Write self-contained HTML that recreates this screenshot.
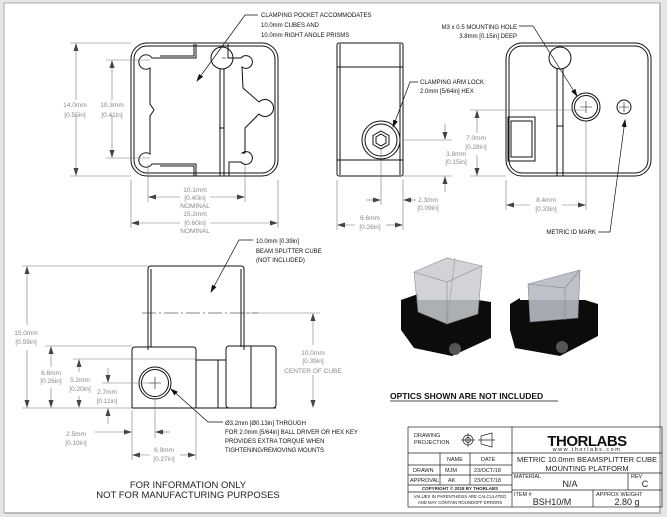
<!DOCTYPE html>
<html><head><meta charset="utf-8"><style>
html,body{margin:0;padding:0;background:#e6e6e6;}
svg{display:block;}
text{font-family:"Liberation Sans",sans-serif;}
.l{fill:#111;font-size:6px;}
.d{fill:#888;font-size:6.5px;}
</style></head><body>
<svg width="667" height="517" viewBox="0 0 667 517" xmlns="http://www.w3.org/2000/svg">
<defs>
<marker id="a" markerWidth="8" markerHeight="6" refX="7" refY="3" orient="auto" markerUnits="userSpaceOnUse"><path d="M0,0.5 L8,3 L0,5.5z" fill="#444"/></marker>
<marker id="b" markerWidth="8" markerHeight="6" refX="7" refY="3" orient="auto" markerUnits="userSpaceOnUse"><path d="M0,0.5 L8,3 L0,5.5z" fill="#111"/></marker>
</defs>
<rect x="4" y="3" width="656" height="510" fill="#fff" stroke="#aaa"/>
<line x1="660" y1="4" x2="660" y2="514" stroke="#bbb" stroke-width="2"/>
<line x1="5" y1="513" x2="661" y2="513" stroke="#bbb" stroke-width="2"/>

<g fill="none" stroke="#111" stroke-width="1">
<!-- FRONT VIEW -->
<rect x="131" y="43" width="147" height="133" rx="16"/>
<rect x="134" y="46" width="141" height="127" rx="13"/>
<path d="M196,44 V58 H152 A7.2,7.2 0 1 0 150,68 V104 L154,110 L150,116 V154 A7.2,7.2 0 1 0 152,164 H196 V176"/>
<path d="M194,44 V56 H160 M194,176 V166 H160"/>
<circle cx="222" cy="58" r="11"/>
<path d="M220,69 V176 M224,69 V176"/>
<line x1="219" y1="128" x2="224" y2="128"/>
<path d="M228,44 V58 H241 A6.4,6.4 0 1 1 242,67 L243,88 L259,102 A8.5,8.5 0 1 1 259,114 L245,128 V153 L242,153 A6.4,6.4 0 1 1 241,162 H229 V176"/>
<!-- SIDE VIEW -->
<rect x="337" y="43" width="66" height="133" rx="2"/>
<line x1="340" y1="44" x2="340" y2="175"/>
<line x1="400" y1="44" x2="400" y2="175"/>
<line x1="337" y1="67" x2="403" y2="67"/>
<line x1="337" y1="160" x2="403" y2="160"/>
<circle cx="381" cy="140" r="19" fill="#fff"/>
<circle cx="381" cy="140" r="16"/>
<path d="M381,131 L389,135.5 V144.5 L381,149 L373,144.5 V135.5Z"/>
<path d="M381,134 L386,137 V143 L381,146 L376,143 V137Z"/>
<!-- RIGHT VIEW -->
<rect x="506" y="43" width="145" height="133" rx="16"/>
<rect x="509" y="46" width="139" height="127" rx="13"/>
<circle cx="560" cy="58" r="11" fill="#fff"/>
<path d="M557,68 V176 M563,68 V176"/>
<line x1="557" y1="126" x2="563" y2="126"/>
<rect x="508" y="117" width="27" height="44"/>
<rect x="511" y="121" width="21" height="36"/>
<circle cx="586" cy="107" r="14"/>
<circle cx="586" cy="107" r="11.5"/>
<circle cx="624" cy="107" r="7"/>
<!-- BOTTOM VIEW -->
<path d="M148,350 V269 Q148,266 151,266 H241 Q244,266 244,269 V350"/>
<path d="M151,269 V347 M241,269 V347"/>
<path d="M132,408 V350 Q132,347 135,347 H193 Q196,347 196,350 V360 H226 M196,408 V360"/>
<rect x="226" y="346" width="50" height="62" rx="3"/>
<line x1="251" y1="346" x2="251" y2="408"/>
<line x1="218" y1="360" x2="218" y2="408"/>
<line x1="132" y1="408" x2="276" y2="408"/>
<circle cx="155" cy="383" r="16"/>
<circle cx="155" cy="383" r="13.5"/>
</g>

<g stroke="#111" stroke-width="0.6" fill="none">
<path d="M222,58 H226"/>
<path d="M580,107 H592 M586,101 V113 M619,107 H629 M624,102 V112"/>
<path d="M149,383 H161 M155,377 V389"/>
<path d="M142,313 H258" stroke-dasharray="14,3,2,3"/>
</g>

<!-- dimension lines -->
<g stroke="#777" stroke-width="0.6" fill="none">
<path d="M70,43 H131 M70,176 H131 M106,60 H150 M106,158 H150"/>
<line x1="76" y1="100" x2="76" y2="44" marker-end="url(#a)"/><line x1="76" y1="115" x2="76" y2="175" marker-end="url(#a)"/>
<line x1="112" y1="100" x2="112" y2="61" marker-end="url(#a)"/><line x1="112" y1="115" x2="112" y2="157" marker-end="url(#a)"/>
<path d="M148,165 V202 M245,165 V202 M131,180 V228 M278,180 V228"/>
<line x1="180" y1="197" x2="149" y2="197" marker-end="url(#a)"/><line x1="210" y1="197" x2="244" y2="197" marker-end="url(#a)"/>
<line x1="180" y1="223" x2="132" y2="223" marker-end="url(#a)"/><line x1="210" y1="223" x2="277" y2="223" marker-end="url(#a)"/>
<path d="M403,140 H452 M403,176 H452 M381,150 V205 M403,180 V230 M337,180 V230"/>
<line x1="445" y1="124" x2="445" y2="139" marker-end="url(#a)"/><line x1="445" y1="192" x2="445" y2="177" marker-end="url(#a)"/>
<line x1="366" y1="200" x2="380" y2="200" marker-end="url(#a)"/><line x1="416" y1="200" x2="404" y2="200" marker-end="url(#a)"/>
<line x1="355" y1="225" x2="338" y2="225" marker-end="url(#a)"/><line x1="386" y1="225" x2="402" y2="225" marker-end="url(#a)"/>
<path d="M470,110 H586 M470,176 H506 M506,180 V210 M586,121 V210"/>
<line x1="477" y1="133" x2="477" y2="111" marker-end="url(#a)"/><line x1="477" y1="155" x2="477" y2="175" marker-end="url(#a)"/>
<line x1="530" y1="205" x2="507" y2="205" marker-end="url(#a)"/><line x1="562" y1="205" x2="585" y2="205" marker-end="url(#a)"/>
<path d="M22,266 H148 M22,408 H132 M45,346 H132 M73,359 H196 M102,383 H155 M244,313 H320"/>
<line x1="27" y1="325" x2="27" y2="267" marker-end="url(#a)"/><line x1="27" y1="350" x2="27" y2="407" marker-end="url(#a)"/>
<line x1="51" y1="367" x2="51" y2="347" marker-end="url(#a)"/><line x1="51" y1="388" x2="51" y2="407" marker-end="url(#a)"/>
<line x1="79" y1="372" x2="79" y2="360" marker-end="url(#a)"/><line x1="79" y1="396" x2="79" y2="407" marker-end="url(#a)"/>
<line x1="108" y1="368" x2="108" y2="382" marker-end="url(#a)"/><line x1="108" y1="424" x2="108" y2="409" marker-end="url(#a)"/>
<line x1="313" y1="345" x2="313" y2="314" marker-end="url(#a)"/><line x1="313" y1="375" x2="313" y2="407" marker-end="url(#a)"/>
<path d="M132,410 V460 M196,410 V460 M155,400 V438"/>
<line x1="95" y1="432" x2="131" y2="432" marker-end="url(#a)"/><line x1="170" y1="432" x2="156" y2="432" marker-end="url(#a)"/>
<line x1="150" y1="455" x2="133" y2="455" marker-end="url(#a)"/><line x1="180" y1="455" x2="195" y2="455" marker-end="url(#a)"/>
</g>

<g stroke="#111" stroke-width="0.7" fill="none">
<polyline points="258,15 245,15 197,81" marker-end="url(#b)"/>
<polyline points="418,82 410,82 393,127" marker-end="url(#b)"/>
<polyline points="519,26 533,26 577,96" marker-end="url(#b)"/>
<polyline points="598,232 610,232 625,120" marker-end="url(#b)"/>
<polyline points="253,240 239,240 211,292" marker-end="url(#b)"/>
<polyline points="223,422 208,422 171,389" marker-end="url(#b)"/>
</g>

<text class="l" x="261" y="17">CLAMPING POCKET ACCOMMODATES</text>
<text class="l" x="261" y="27">10.0mm CUBES AND</text>
<text class="l" x="261" y="37">10.0mm RIGHT ANGLE PRISMS</text>
<text class="l" x="420" y="84">CLAMPING ARM LOCK</text>
<text class="l" x="420" y="93">2.0mm [5/64in] HEX</text>
<text class="l" x="517" y="29" text-anchor="end">M3 x 0.5 MOUNTING HOLE</text>
<text class="l" x="517" y="38" text-anchor="end">3.8mm [0.15in] DEEP</text>
<text class="l" x="596" y="234" text-anchor="end">METRIC ID MARK</text>
<text class="l" x="256" y="243">10.0mm [0.39in]</text>
<text class="l" x="256" y="253">BEAM  SPLITTER CUBE</text>
<text class="l" x="256" y="262">(NOT INCLUDED)</text>
<text class="l" x="225" y="425">Ø3.2mm [Ø0.13in] THROUGH</text>
<text class="l" x="225" y="434">FOR 2.0mm [5/64in] BALL DRIVER OR HEX KEY</text>
<text class="l" x="225" y="443">PROVIDES EXTRA TORQUE WHEN</text>
<text class="l" x="225" y="452">TIGHTENING/REMOVING MOUNTS</text>

<g class="d" text-anchor="middle">
<text class="d" x="75" y="107">14.0mm</text><text class="d" x="75" y="117">[0.55in]</text>
<text class="d" x="112" y="107">10.3mm</text><text class="d" x="112" y="117">[0.41in]</text>
<text class="d" x="195" y="192">10.1mm</text><text class="d" x="195" y="200">[0.40in]</text><text class="d" x="195" y="208">NOMINAL</text>
<text class="d" x="195" y="216">15.2mm</text><text class="d" x="195" y="225">[0.60in]</text><text class="d" x="195" y="233">NOMINAL</text>
<text class="d" x="456" y="156">3.8mm</text><text class="d" x="456" y="164">[0.15in]</text>
<text class="d" x="428" y="202">2.3mm</text><text class="d" x="428" y="210">[0.09in]</text>
<text class="d" x="370" y="220">6.6mm</text><text class="d" x="370" y="229">[0.26in]</text>
<text class="d" x="476" y="140">7.0mm</text><text class="d" x="476" y="149">[0.28in]</text>
<text class="d" x="546" y="202">8.4mm</text><text class="d" x="546" y="211">[0.33in]</text>
<text class="d" x="26" y="335">15.0mm</text><text class="d" x="26" y="344">[0.59in]</text>
<text class="d" x="51" y="375">6.6mm</text><text class="d" x="51" y="383">[0.26in]</text>
<text class="d" x="80" y="382">5.2mm</text><text class="d" x="80" y="391">[0.20in]</text>
<text class="d" x="107" y="394">2.7mm</text><text class="d" x="107" y="403">[0.11in]</text>
<text class="d" x="313" y="355">10.0mm</text><text class="d" x="313" y="363">[0.39in]</text><text class="d" x="313" y="373">CENTER OF CUBE</text>
<text class="d" x="76" y="436">2.5mm</text><text class="d" x="76" y="445">[0.10in]</text>
<text class="d" x="164" y="452">6.9mm</text><text class="d" x="164" y="461">[0.27in]</text>
</g>
<text x="188" y="488" text-anchor="middle" font-size="9.5" fill="#222">FOR INFORMATION ONLY</text>
<text x="188" y="498" text-anchor="middle" font-size="9.5" fill="#222">NOT FOR MANUFACTURING PURPOSES</text>

<!-- photos -->
<g>
<path d="M401,300 L418,294 V300 H478 L491,302 V338 L452,356 L414,348 L401,330Z" fill="#0c0c0c"/>
<path d="M414,272 L447,258 L482,266 L478,314 L447,324 L418,312Z" fill="#c9ccd2" stroke="#777" stroke-width="0.6" opacity="0.85"/>
<path d="M414,272 L447,282 L482,266 M447,282 L447,324" stroke="#888" stroke-width="0.6" fill="none"/>
<path d="M455,258 L447,324" stroke="#999" stroke-width="0.6"/>
<circle cx="455" cy="349" r="6" fill="#555"/>
<path d="M510,304 L520,298 V300 H585 L598,304 V336 L560,356 L515,348 L510,330Z" fill="#0c0c0c"/>
<path d="M528,284 L580,270 L578,318 L530,322Z" fill="#b7bbc4" stroke="#777" stroke-width="0.6" opacity="0.9"/>
<path d="M528,284 L565,288 L580,270 M565,288 V320" stroke="#888" stroke-width="0.6" fill="none"/>
<circle cx="562" cy="347" r="6" fill="#555"/>
</g>
<text x="390" y="399" font-size="8.5" font-weight="bold" fill="#111">OPTICS SHOWN ARE NOT INCLUDED</text>
<line x1="390" y1="401" x2="558" y2="401" stroke="#111" stroke-width="0.8"/>

<!-- title block -->
<g fill="none" stroke="#222" stroke-width="0.7">
<rect x="408" y="427" width="254" height="80"/>
<line x1="512" y1="427" x2="512" y2="507"/>
<path d="M408,453 H662 M408,465 H512 M408,475 H512 M408,485 H512 M408,492 H512 M512,473 H662 M512,490 H662"/>
<path d="M440,453 V485 M470,453 V485 M628,473 V490 M593,490 V507"/>
<circle cx="468" cy="440" r="5"/><circle cx="468" cy="440" r="2.5"/><path d="M461,440 H475 M468,433 V447"/>
<path d="M481,436 L492,433 V447 L481,444Z M478,440 H495"/>
</g>
<g font-size="5.5" fill="#222">
<text x="414" y="437">DRAWING</text><text x="414" y="444">PROJECTION</text>
<text x="447" y="461">NAME</text><text x="481" y="461">DATE</text>
<text x="413" y="472">DRAWN</text><text x="445" y="472">MJM</text><text x="474" y="472">23/OCT/18</text>
<text x="410" y="482">APPROVAL</text><text x="448" y="482">AK</text><text x="474" y="482">23/OCT/18</text>
<text x="460" y="490" text-anchor="middle" font-weight="bold" font-size="4.5">COPYRIGHT © 2018 BY THORLABS</text>
<text x="460" y="498" text-anchor="middle" font-size="4.3">VALUES IN PARENTHESIS ARE CALCULATED</text>
<text x="460" y="504" text-anchor="middle" font-size="4.3">AND MAY CONTAIN ROUNDOFF ERRORS</text>
<text x="514" y="478">MATERIAL</text><text x="631" y="478">REV</text>
<text x="514" y="496">ITEM #</text><text x="596" y="496">APPROX WEIGHT</text>
</g>
<text x="587" y="446" text-anchor="middle" font-size="15" font-weight="bold" fill="#111" letter-spacing="-0.5">THORLABS</text>
<text x="587" y="451" text-anchor="middle" font-size="5.5" fill="#222" letter-spacing="1.5">www.thorlabs.com</text>
<text x="587" y="462" text-anchor="middle" font-size="7.5" fill="#222">METRIC 10.0mm BEAMSPLITTER CUBE</text>
<text x="587" y="471" text-anchor="middle" font-size="7.5" fill="#222">MOUNTING PLATFORM</text>
<text x="570" y="487" text-anchor="middle" font-size="9" fill="#222">N/A</text>
<text x="645" y="487" text-anchor="middle" font-size="9" fill="#222">C</text>
<text x="552" y="505" text-anchor="middle" font-size="9" fill="#222">BSH10/M</text>
<text x="627" y="505" text-anchor="middle" font-size="9" fill="#222">2.80 g</text>
</svg>
</body></html>
